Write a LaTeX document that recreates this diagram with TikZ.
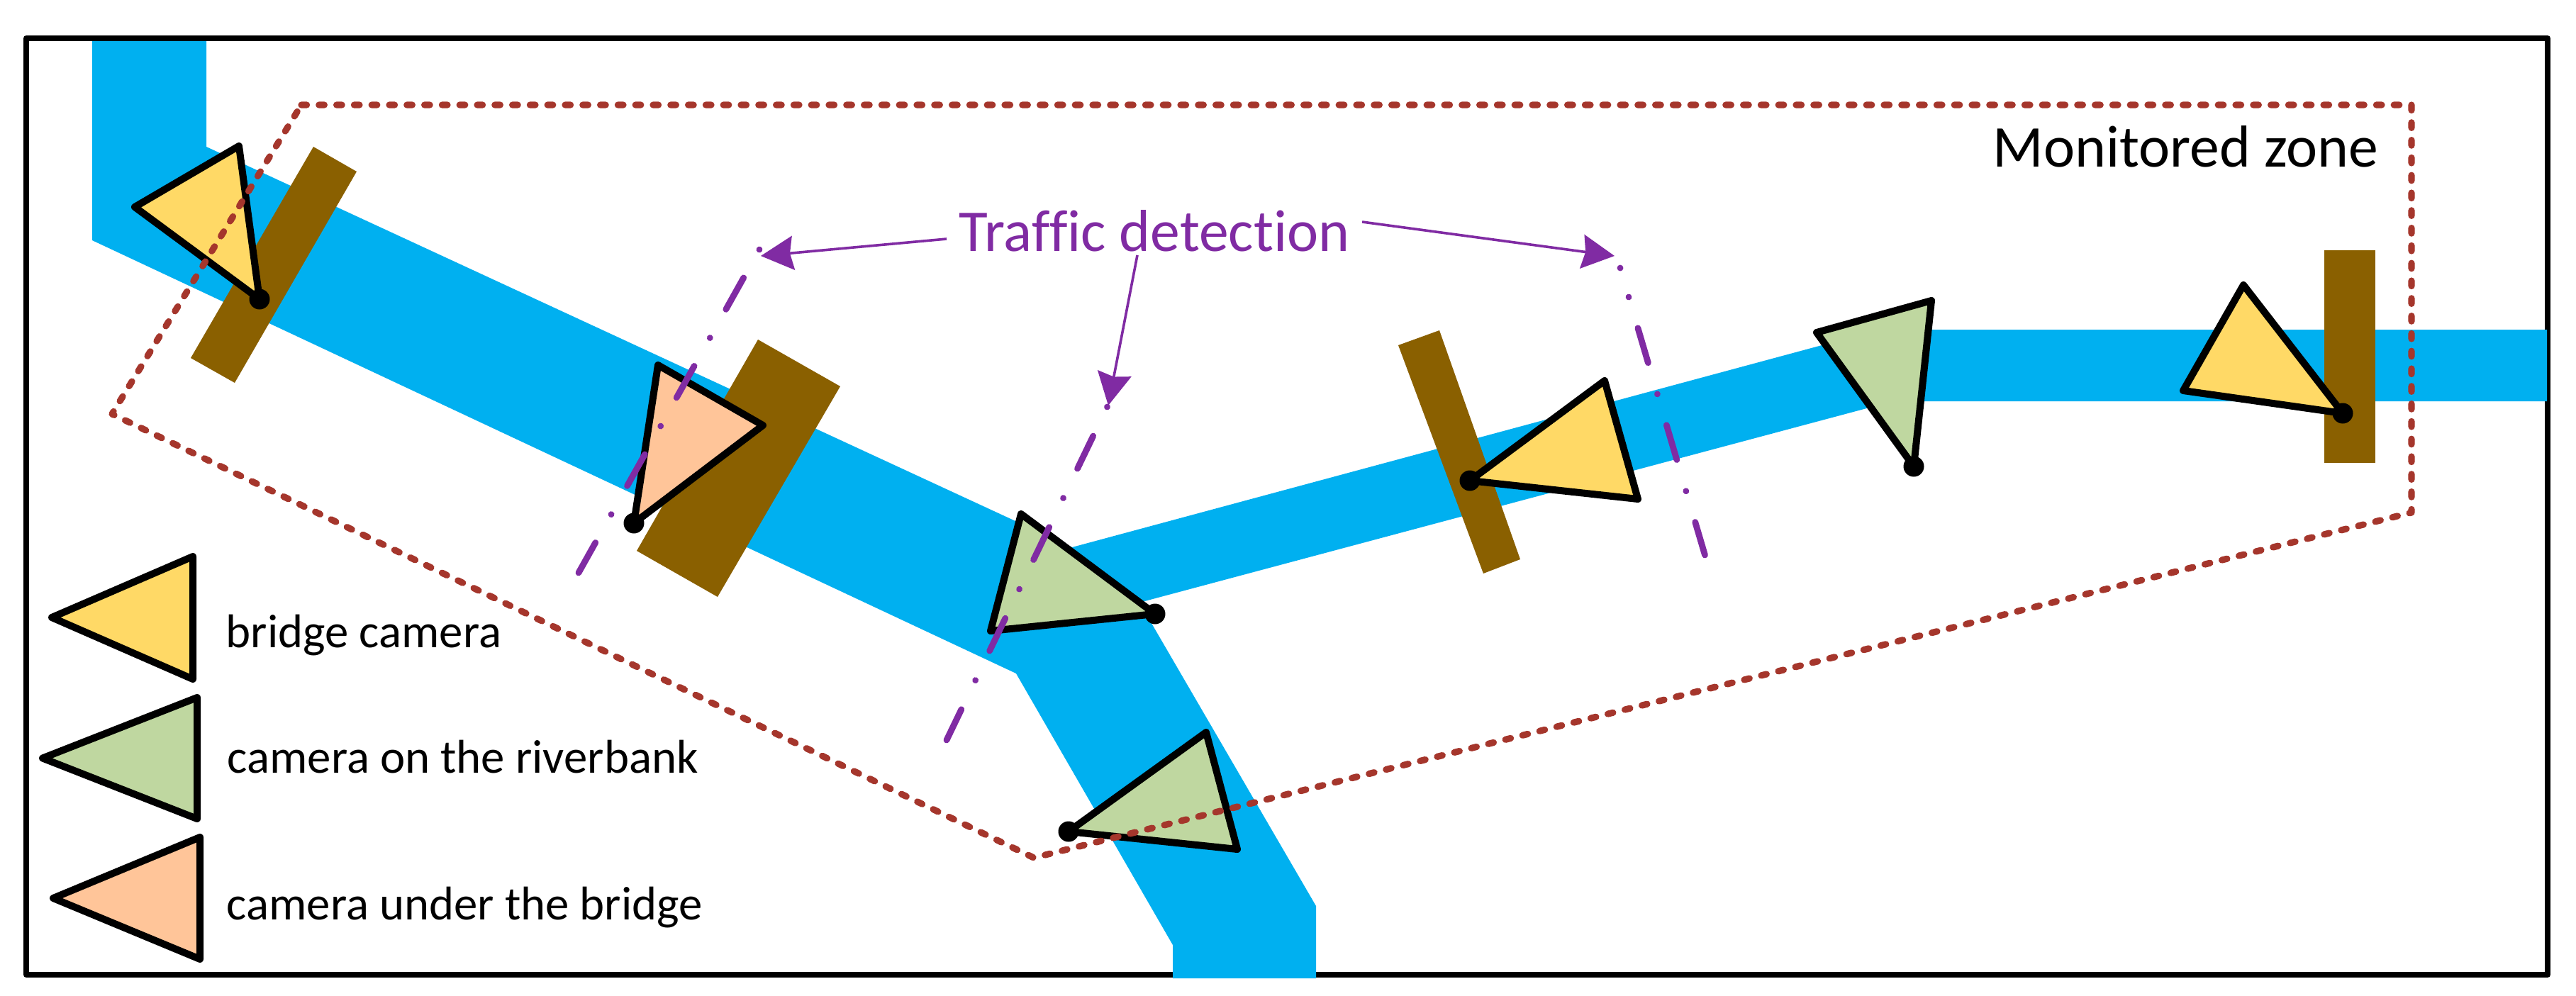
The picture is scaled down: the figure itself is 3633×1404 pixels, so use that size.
\documentclass[tikz,border=0pt]{standalone}
\usepackage{fontspec}
\setmainfont[Ligatures={NoCommon}]{Carlito}
\usetikzlibrary{arrows.meta,calc}
\definecolor{riverc}{HTML}{00B0F0}
\definecolor{bridgec}{HTML}{8A6000}
\definecolor{camy}{HTML}{FFD966}
\definecolor{camg}{HTML}{BFD7A0}
\definecolor{camo}{HTML}{FFC599}
\definecolor{zonec}{HTML}{A5362C}
\definecolor{purp}{HTML}{802BA3}
\tikzset{
  frameline/.style={draw=black,line width=1.9pt,line join=round},
  river/.style={fill=riverc},
  bridge/.style={fill=bridgec},
  cam/.style={draw=black,line width=2.5pt,line join=round},
  zone/.style={draw=zonec,line width=2.3pt,line cap=round,line join=round,dash pattern=on 1.9pt off 4.3pt},
  detect/.style={draw=purp,line width=2.2pt,line cap=round,dash pattern=on 0.02pt off 11.4pt on 12.75pt off 11.5pt},
  pointer/.style={draw=purp,line width=0.9pt,-{Stealth[length=11.5pt,width=12pt,inset=1.2pt]}},
  lbl/.style={anchor=base west,inner sep=0pt,font=\fontsize{16.7pt}{20pt}\selectfont},
  big/.style={anchor=base west,inner sep=0pt,font=\fontsize{20.9pt}{24pt}\selectfont}
}
\newcommand{\camdot}[1]{\fill[black] (#1) circle (14.5);}
\begin{document}
\begin{tikzpicture}[x=0.25pt,y=-0.25pt]
\useasboundingbox (0,0) rectangle (3633,1404);
\fill[white] (0,0) rectangle (3633,1404);
\draw[frameline] (37,54) rectangle (3593,1375);
% river
\fill[river] (130,58) -- (291,58) -- (291,207) -- (1512,772) -- (2651,465) -- (3592,465) -- (3592,566) -- (2670,566) -- (1607,850) -- (1856,1278) -- (1856,1380) -- (1654,1380) -- (1654,1333) -- (1433,950) -- (130,339) -- cycle;
% bridges
\fill[bridge] (442,207) -- (503,242) -- (331,540) -- (269,505) -- cycle;
\fill[bridge] (1069,479) -- (1185,545) -- (1012,842) -- (898,777) -- cycle;
\fill[bridge] (1972,487) -- (2030,466) -- (2144,789) -- (2092,809) -- cycle;
\fill[bridge] (3278,353) rectangle (3350,653);
% cameras
\draw[cam,fill=camy] (337,206) -- (190,292) -- (366,422) -- cycle; \camdot{366,422}
\draw[cam,fill=camo] (928,515) -- (1076,600) -- (894,738) -- cycle; \camdot{894,738}
\draw[cam,fill=camg] (1440,725) -- (1397,890) -- (1629,866) -- cycle; \camdot{1629,866}
\draw[cam,fill=camg] (1701,1033) -- (1745,1198) -- (1507,1173) -- cycle; \camdot{1507,1173}
\draw[cam,fill=camy] (2263,537) -- (2310,704) -- (2073,678) -- cycle; \camdot{2073,678}
\draw[cam,fill=camg] (2562,469) -- (2724,424) -- (2699,658) -- cycle; \camdot{2699,658}
\draw[cam,fill=camy] (3164,402) -- (3079,551) -- (3304,583) -- cycle; \camdot{3304,583}
% monitored zone
\draw[zone] (425,148) -- (3401,148) -- (3401,723) -- (1458,1210) -- (158,584) -- cycle;
% detection lines
\coordinate (l1a) at (1071,352); \coordinate (l1b) at (816,808);
\coordinate (l2a) at (1561.5,574); \coordinate (l2b) at (1335,1044);
\coordinate (l3a) at (2297,419); \coordinate (l3b) at (2404.5,783);
\coordinate (l3c) at (2285,378);
\draw[detect] (l1a) -- (l1b);
\draw[detect] (l2a) -- (l2b);
\draw[detect] (l3a) -- (l3b);
\draw[draw=purp,line width=2.2pt,line cap=round] (l3c) -- ++(0.05,0.05);
% labels
\node[big,purp] (td) at (1352,354) {Traffic detection};
\node[big] (mz) at (2810,235) {Monitored zone};
\coordinate (t1) at (1073,361);
\coordinate (t2) at (1563,572);
\coordinate (t3) at (2277,361);
\draw[pointer] ([shift={(-17,-17)}]td.base west) -- (t1);
\draw[pointer] ([shift={(252,6)}]td.base west) -- (t2);
\draw[pointer] ([shift={(17,-41)}]td.base east) -- (t3);
% legend
\draw[cam,fill=camy] (272,785) -- (73,871) -- (272,958) -- cycle;
\draw[cam,fill=camg] (278,984) -- (60,1069.5) -- (278,1155) -- cycle;
\draw[cam,fill=camo] (282,1181) -- (75,1267) -- (282,1353) -- cycle;
\node[lbl] (lg1) at (318,913) {bridge camera};
\node[lbl] (lg2) at (320,1090) {camera on the riverbank};
\node[lbl] (lg3) at (319,1297) {camera under the bridge};
\end{tikzpicture}
\end{document}
